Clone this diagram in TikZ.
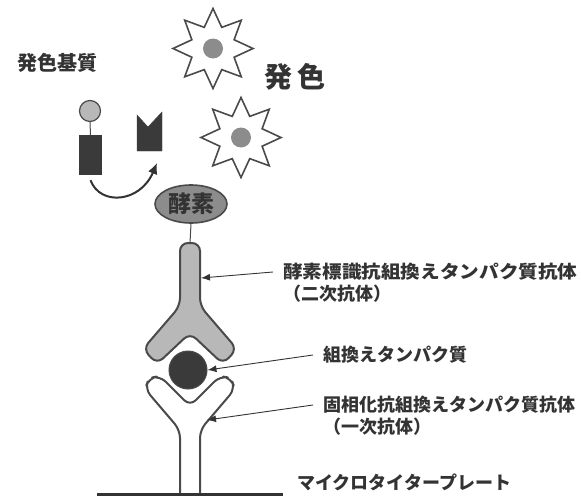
\documentclass[tikz,border=0pt]{standalone}
\usepackage{fontspec}
\setmainfont{Noto Sans CJK JP}
\usetikzlibrary{arrows.meta,positioning,shapes.geometric}

\definecolor{ink}{HTML}{333333}
\definecolor{edge}{HTML}{4A4A4A}
\definecolor{midgray}{HTML}{8C8C8C}
\definecolor{lightgray}{HTML}{B8B8B8}
\definecolor{darkfill}{HTML}{3A3A3A}

\tikzset{
  lbl/.style={font=\bfseries\fontsize{18}{20}\selectfont, text=ink, inner sep=0pt, anchor=west},
  lead/.style={draw=ink, line width=0.9pt, -{Latex[length=9pt,width=7pt]}},
  glow/.style={star, star points=8, star point ratio=1.75, minimum size=80pt,
    inner sep=0pt, draw=edge, fill=white, line width=1.6pt},
  dye/.style={circle, fill=midgray, minimum size=20pt, inner sep=0pt},
  abody/.style={draw=edge, line width=2pt, rounded corners=8pt, line join=round},
}

\begin{document}
\begin{tikzpicture}[x=1pt, y=-1pt]
  \useasboundingbox (0,0) rectangle (581,498);

  % substrate and the reaction
  \node[lbl, font=\bfseries\fontsize{20}{22}\selectfont, anchor=center] (substrate) at (57,63) {発色基質};
  \node[circle, draw=edge, fill=lightgray, line width=1.2pt, minimum size=21pt, inner sep=0pt] (sub-c) at (90,111) {};
  \node[rectangle, fill=darkfill, minimum width=23pt, minimum height=40pt, inner sep=0pt] (sub) at (90.5,155) {};
  \draw[edge, line width=1pt] (sub-c.south) -- (sub.north);
  \filldraw[fill=darkfill, draw=darkfill] (137,115) -- (148,127) -- (162,112) -- (162,151) -- (137,151) -- cycle;
  \coordinate (piece) at (157,163);
  \draw[ink, line width=2pt, -{Latex[length=11pt,width=10pt]}]
    ([yshift=-5pt]sub.south) .. controls (100,206) and (140,203) .. (piece);

  % colour development
  \node[glow] (star1) at (213,48.5) {};
  \node[dye] at (star1) {};
  \node[glow] (star2) at (241,137.5) {};
  \node[dye] at (star2) {};
  \node[lbl, font=\bfseries\fontsize{28}{30}\selectfont, anchor=center] (color) at (295,77) {発\kern6pt 色};

  % enzyme
  \node[ellipse, draw=edge, fill=midgray, line width=1.6pt, minimum width=72pt, minimum height=38pt, inner sep=0pt,
        font=\bfseries\fontsize{23}{25}\selectfont, text=ink] (enz) at (191,204) {酵素};

  % primary antibody on the plate
  \draw[abody, fill=white] (180,494) -- (180,430) -- (145,389) -- (149,378) -- (160,376) -- (190,406)
    -- (220,376) -- (231,378) -- (235,389) -- (200,430) -- (200,494);
  \draw[ink, line width=3pt] (97,494) -- (283,494);

  % recombinant protein
  \node[circle, fill=darkfill, draw=edge, line width=1pt, minimum size=38pt, inner sep=0pt] (prot) at (188,370) {};

  % labelled secondary antibody
  \draw[abody, fill=lightgray] (180,243) -- (200,243) -- (200,306) -- (237,349) -- (223,364)
    -- (190,333) -- (157,364) -- (143,349) -- (180,306) -- cycle;
  \draw[edge, line width=1pt] (enz.south) -- (190,243);

  % labels
  \node[lbl] (l1) at (283,272) {\scalebox{1.09}[1]{酵素標識抗組換えタンパク質抗体}};
  \node[lbl, below=4pt of l1.south west, anchor=north west] (l2) {（二次抗体）};
  \node[lbl] (l3) at (323,355) {組換えタンパク質};
  \node[lbl] (l4) at (323,405) {固相化抗組換えタンパク質抗体};
  \node[lbl, below=4pt of l4.south west, anchor=north west] (l5) {（一次抗体）};
  \node[lbl] (l6) at (297,482) {マイクロタイタープレート};

  % leader arrows
  \coordinate (tip1) at (201,278);
  \coordinate (tip3) at (207,420);
  \draw[lead] ([xshift=-10pt]l1.west) -- (tip1);
  \draw[lead] ([xshift=-10pt]l3.west) -- (prot.east);
  \draw[lead] ([xshift=-10pt]l4.west) -- (tip3);
\end{tikzpicture}
\end{document}
